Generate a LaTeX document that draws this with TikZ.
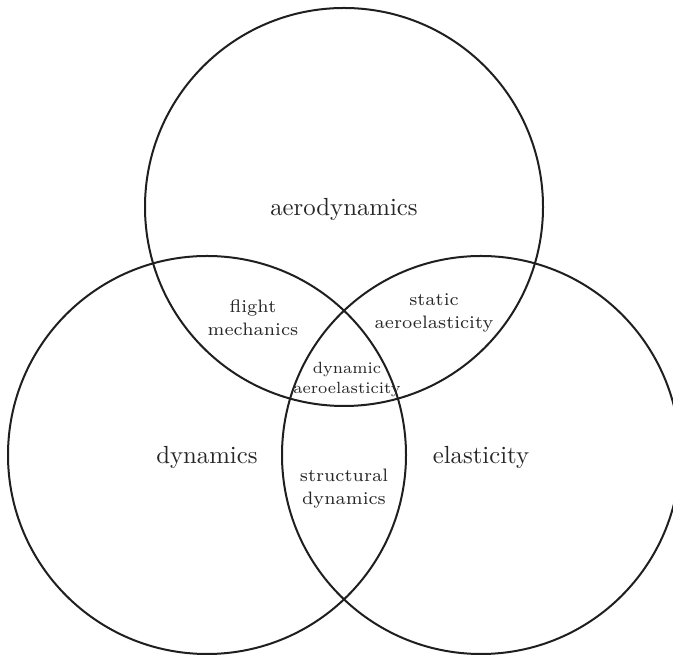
\documentclass[tikz,border=0pt]{standalone}
\usepackage{fontspec}
\begin{document}
\begin{tikzpicture}[x=0.4pt,y=-0.4pt,
  venn/.style={circle,draw=black!88,line width=0.8pt,minimum size=159.2pt,inner sep=0pt},
  big/.style={font=\fontsize{9.9}{12}\selectfont,text=black!85,inner sep=0pt},
  mid/.style={font=\fontsize{7.2}{9.2}\selectfont,text=black!85,align=center,inner sep=0pt},
  ctr/.style={font=\fontsize{6.5}{8}\selectfont,text=black!85,align=center,inner sep=0pt}]
\useasboundingbox (0,0) rectangle (673,657);
\node[venn] (aero) at (344,207) {};
\node[venn] (dyn) at (207,455) {};
\node[venn] (ela) at (481,455) {};
\node[big] (taero) at (344,209) {aerodynamics};
\node[big] (tdyn) at (207,457) {dynamics};
\node[big] (tela) at (481,457) {elasticity};
\node[mid] (tfm) at (253,318) {flight\\mechanics};
\node[mid] (tsa) at (434,313) {static\\aeroelasticity};
\node[mid] (tsd) at (344,489) {structural\\dynamics};
\node[ctr] (tda) at (347,379.5) {dynamic\\aeroelasticity};
\end{tikzpicture}
\end{document}
